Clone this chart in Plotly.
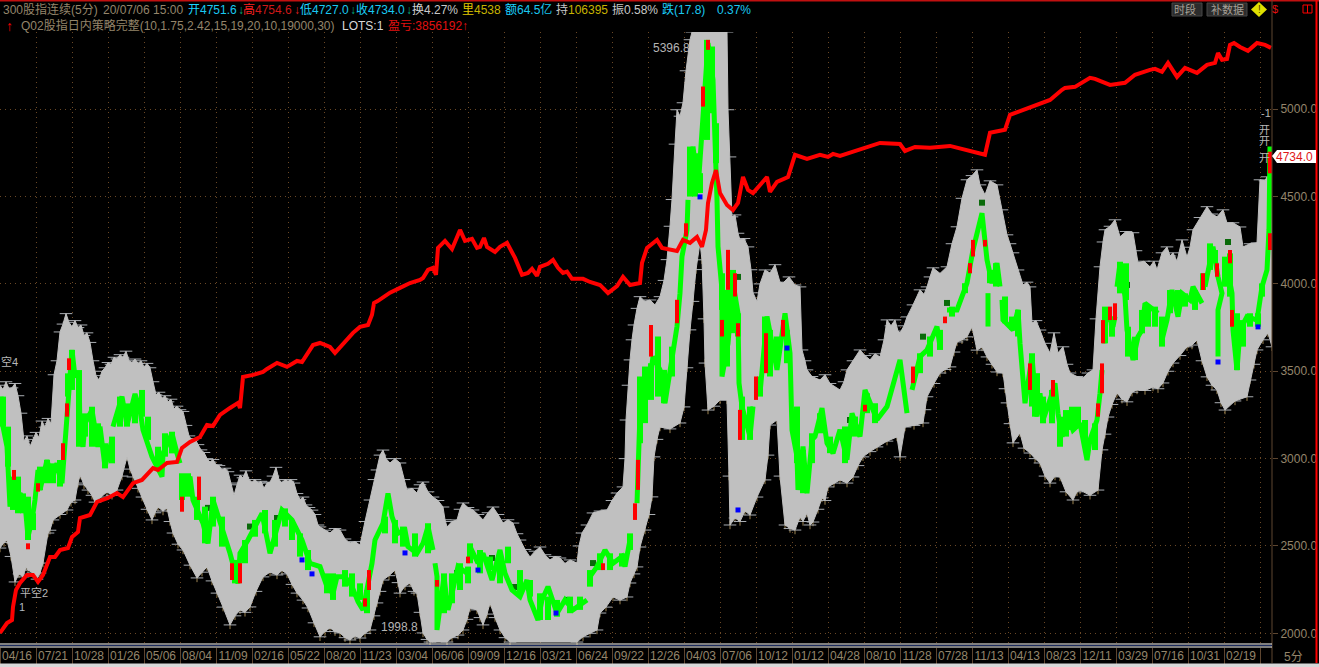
import plotly.graph_objects as go

DATE_LABELS = ["04/16","07/21","10/28","01/26","05/06","08/04","11/09","02/16","05/22","08/20","11/23","03/04","06/06","09/09","12/16","03/21","06/24","09/22","12/26","04/03","07/06","10/12","01/12","04/28","08/10","11/28","07/28","11/13","04/13","08/23","12/11","03/29","07/16","10/31","02/19"]
PRICE_TICKS = [2000,2500,3000,3500,4000,4500,5000]

UPPER_BAND = [(0,3420),(3,3395),(6,3440),(9,3400),(12,3405),(15,3430),(18,3360),(21,3260),(24,3100),(27,3130),(30,3070),(33,3110),(36,3150),(39,3120),(42,3215),(45,3180),(48,3230),(51,3200),(54,3480),(57,3560),(60,3725),(63,3770),(66,3830),(69,3780),(72,3755),(75,3790),(78,3750),(81,3765),(84,3705),(87,3720),(90,3665),(93,3560),(96,3475),(99,3450),(102,3500),(105,3520),(108,3550),(111,3540),(114,3580),(117,3570),(120,3595),(123,3580),(126,3615),(129,3560),(132,3550),(135,3570),(138,3545),(141,3560),(144,3525),(147,3545),(150,3520),(153,3440),(156,3365),(159,3380),(162,3345),(165,3360),(168,3325),(171,3340),(174,3285),(177,3300),(180,3280),(183,3270),(186,3190),(189,3130),(192,3105),(195,3115),(198,3080),(201,3050),(204,3035),(207,3000),(210,2980),(213,2995),(216,2965),(219,2960),(222,2935),(225,2945),(228,2925),(231,2860),(234,2790),(237,2850),(240,2905),(243,2890),(246,2930),(249,2880),(252,2865),(255,2880),(258,2860),(261,2870),(264,2830),(267,2860),(270,2865),(273,2900),(276,2950),(279,2880),(282,2860),(285,2880),(288,2870),(291,2880),(294,2860),(297,2800),(300,2765),(303,2780),(306,2735),(309,2720),(312,2705),(315,2680),(318,2620),(320,2609),(325,2590),(330,2574),(335,2600),(340,2591),(345,2540),(350,2517),(355,2525),(360,2505),(365,2640),(370,2763),(374,2880),(377,2935),(380,3020),(383,3049),(386,3000),(390,2975),(395,3000),(400,2975),(404,2880),(407,2820),(412,2830),(417,2803),(420,2850),(423,2866),(428,2810),(433,2780),(438,2760),(443,2723),(445,2650),(447,2609),(452,2640),(457,2649),(460,2710),(463,2746),(468,2720),(473,2706),(478,2680),(483,2649),(488,2690),(493,2723),(498,2680),(503,2631),(508,2650),(513,2631),(517,2570),(520,2534),(525,2480),(530,2437),(535,2470),(540,2494),(545,2450),(550,2420),(555,2440),(560,2431),(565,2400),(570,2420),(577,2402),(579,2500),(582,2574),(587,2620),(593,2689),(600,2700),(607,2706),(612,2760),(617,2803),(623,2838),(625,3000),(626,3221),(628,3420),(630,3565),(632,3680),(634,3765),(637,3860),(640,3927),(645,3900),(650,3908),(655,3880),(660,3927),(664,4020),(667,4139),(670,4330),(672,4483),(675,4800),(677,4997),(680,4960),(683,5037),(686,5220),(690,5398),(692,5442),(727,5442),(728,4997),(730,4727),(732,4384),(735,4395),(738,4290),(740,4252),(744,4260),(748,4212),(751,4081),(753,3949),(757,3900),(760,4000),(765,4080),(770,4062),(775,4110),(780,4010),(783,4005),(789,4040),(795,3994),(800,3983),(802,3622),(805,3560),(807,3508),(812,3470),(820,3450),(825,3480),(830,3430),(840,3393),(844,3440),(847,3508),(853,3560),(860,3622),(865,3590),(870,3565),(875,3600),(880,3582),(884,3680),(887,3794),(891,3760),(895,3794),(898,3730),(900,3719),(904,3760),(907,3811),(913,3880),(920,3966),(924,3940),(927,3983),(930,4040),(933,4092),(940,4060),(947,4098),(952,4230),(957,4327),(962,4490),(967,4596),(972,4620),(977,4653),(980,4567),(985,4510),(990,4590),(997,4567),(1002,4424),(1007,4281),(1010,4230),(1013,4178),(1018,4080),(1023,3994),(1027,4010),(1030,3983),(1032,3776),(1036,3790),(1040,3736),(1045,3660),(1050,3605),(1054,3720),(1058,3605),(1063,3640),(1067,3540),(1070,3490),(1077,3470),(1083,3462),(1088,3490),(1093,3508),(1096,3800),(1100,4098),(1103,4240),(1105,4310),(1110,4330),(1115,4367),(1120,4270),(1126,4300),(1133,4293),(1136,4190),(1138,4121),(1144,4130),(1150,4098),(1154,4130),(1157,4081),(1162,4178),(1167,4212),(1170,4160),(1173,4178),(1177,4130),(1182,4252),(1187,4154),(1190,4210),(1193,4310),(1200,4380),(1207,4442),(1212,4400),(1217,4384),(1223,4424),(1227,4349),(1233,4350),(1240,4326),(1243,4212),(1250,4230),(1257,4235),(1260,4596),(1265,4590),(1267,4613),(1272,4596)]

LOWER_BAND = [(0,2488),(4,2520),(7,2534),(11,2440),(15,2294),(19,2340),(23,2323),(26,2380),(28,2362),(33,2345),(37,2310),(40,2345),(43,2402),(48,2574),(50,2590),(53,2649),(60,2680),(67,2706),(71,2750),(75,2763),(78,2860),(80,2906),(84,2850),(88,2820),(92,2790),(95,2751),(101,2780),(107,2809),(112,2790),(117,2820),(122,2900),(127,3010),(130,2940),(133,2895),(138,2830),(142,2780),(147,2710),(152,2649),(155,2690),(158,2723),(163,2700),(167,2717),(170,2640),(173,2574),(178,2510),(183,2477),(190,2390),(197,2317),(202,2350),(207,2380),(212,2300),(217,2230),(223,2150),(230,2048),(235,2100),(240,2134),(245,2120),(250,2151),(256,2240),(263,2323),(270,2350),(277,2334),(282,2360),(287,2340),(292,2280),(297,2230),(303,2190),(308,2145),(314,2060),(320,1980),(325,2010),(330,2031),(335,2010),(340,2002),(345,1975),(350,1962),(355,1985),(360,1973),(365,2000),(370,2019),(374,2100),(377,2174),(380,2240),(383,2305),(389,2330),(395,2362),(398,2290),(400,2230),(405,2270),(410,2288),(414,2240),(417,2230),(420,2120),(423,2002),(427,1965),(430,1950),(447,1950),(452,1975),(458,1990),(463,2019),(467,2080),(470,2145),(477,2134),(480,2090),(483,2048),(487,2110),(490,2174),(495,2090),(500,2019),(505,1975),(510,1950),(577,1950),(583,1980),(590,2000),(597,2019),(600,2116),(606,2150),(613,2208),(620,2190),(627,2208),(630,2288),(634,2340),(637,2380),(640,2494),(645,2591),(649,2680),(652,2781),(654,3010),(657,3110),(660,3181),(670,3170),(680,3204),(684,3296),(687,3520),(690,3737),(693,3900),(696,4082),(700,4236),(702,4138),(704,3800),(705,3547),(708,3278),(714,3300),(720,3336),(727,3336),(729,2900),(730,2620),(735,2660),(740,2640),(745,2700),(750,2677),(757,2780),(765,2878),(768,3020),(770,3192),(777,3221),(780,2900),(785,2620),(790,2600),(795,2591),(800,2666),(803,2640),(807,2689),(810,2620),(813,2637),(818,2710),(822,2775),(825,2760),(828,2838),(834,2860),(840,2878),(847,2860),(853,2895),(858,2960),(863,3010),(870,3040),(877,3067),(887,3100),(897,3124),(900,3010),(905,3181),(914,3190),(923,3204),(925,3280),(927,3354),(934,3430),(940,3490),(945,3510),(950,3525),(954,3610),(957,3668),(962,3680),(967,3697),(972,3754),(977,3621),(982,3639),(987,3582),(992,3540),(997,3496),(1003,3490),(1005,3400),(1007,3319),(1010,3200),(1013,3090),(1020,3147),(1024,3060),(1030,3032),(1035,3000),(1040,2975),(1045,2900),(1050,2860),(1055,2900),(1060,2895),(1066,2810),(1073,2763),(1077,2810),(1080,2820),(1090,2790),(1098,2820),(1102,3050),(1105,3140),(1108,3238),(1112,3310),(1117,3376),(1122,3340),(1127,3325),(1132,3380),(1137,3393),(1145,3390),(1153,3410),(1158,3400),(1163,3433),(1168,3500),(1173,3547),(1180,3590),(1187,3640),(1192,3650),(1197,3679),(1202,3560),(1207,3468),(1212,3420),(1217,3393),(1221,3320),(1225,3278),(1235,3330),(1247,3354),(1250,3450),(1254,3540),(1257,3622),(1263,3680),(1268,3719),(1272,3640)]

CANDLE_PATH = [(1,3355),(3,3183),(7,3068),(8,2916),(10,2725),(13,2878),(17,2725),(20,2801),(25,2744),(28,2553),(32,2649),(35,2763),(38,2935),(40,2820),(47,2992),(52,2878),(57,2973),(62,2859),(65,3107),(68,3355),(72,3622),(75,3469),(79,3488),(80,3164),(83,3068),(85,3202),(92,3278),(98,3068),(100,3183),(105,2954),(112,3107),None,
(113,3183),(122,3355),(127,3192),(135,3370),(140,3278),(143,3164),(152,3011),(162,2897),(163,3030),(172,3145),(177,3030),(180,2973),None,
(182,2897),(182,2782),(190,2897),(193,2763),(203,2630),(208,2515),(213,2763),(222,2611),(230,2458),(238,2286),(240,2458),(248,2534),(262,2687),(270,2458),(282,2706),(292,2649),(302,2534),(310,2401),(320,2382),(327,2267),(333,2229),(337,2324),(345,2324),(352,2267),(358,2181),(363,2134),(368,2267),(372,2401),(375,2534),(383,2630),(388,2801),(392,2668),(398,2572),(405,2591),(408,2496),(417,2458),(423,2515),(428,2611),(433,2477),None,
(435,2401),(437,2324),(437,2210),(437,2019),(444,2324),(448,2134),(452,2229),(458,2382),(467,2344),None,
(470,2496),(478,2401),(483,2458),(492,2305),(500,2477),(505,2344),(512,2248),(520,2210),(527,2305),(530,2191),(538,2076),(542,2191),(548,2267),(557,2115),(565,2191),(573,2134),(587,2191),None,
(590,2324),(597,2382),(605,2477),(613,2401),(622,2439),(625,2382),(630,2534),None,
(637,2745),(638,2916),(638,3031),(640,3260),(643,3451),(648,3355),(653,3584),(660,3508),(665,3317),(672,3603),(677,3756),(680,3947),(682,4157),(687,4309),(688,4481),None,
(690,4595),(693,4786),(698,4538),(702,4843),(705,5072),(708,5378),(713,5168),(715,4863),(717,4481),(718,4214),(722,3966),(722,3470),(728,3660),(733,4004),(738,3832),(739,3432),(742,3298),(750,3126),(753,3298),None,
(760,3374),(767,3813),(777,3508),(785,3832),(790,3603),(792,3164),(797,3012),(798,2821),(803,3069),(807,2802),(812,3107),(815,3126),(822,3289),(827,3088),(833,3031),(840,3165),(847,2993),(852,3260),(860,3126),(865,3393),(877,3222),(887,3298),(900,3565),(907,3260),None,
(912,3393),(920,3584),(927,3622),(937,3756),(940,3642),None,
(947,3851),(957,3851),(967,4004),(973,4195),(982,4405),(987,4138),(992,4004),(997,4119),(1000,3985),None,
(988,3947),(988,3756),None,
(1002,3909),(1003,3794),(1013,3737),(1018,3851),(1020,3661),(1025,3317),(1032,3584),(1037,3241),(1040,3374),(1043,3221),(1050,3336),(1055,3431),(1058,3259),(1062,3126),(1067,3259),(1073,3164),(1080,3202),(1087,2992),(1090,3107),(1097,3221),(1100,3374),(1102,3507),None,
(1104,3660),(1107,3851),(1113,3755),(1115,3813),None,
(1117,3984),(1120,4118),(1125,3927),(1127,3736),(1133,3564),(1138,3698),(1142,3736),(1145,3889),(1158,3832),None,
(1162,3679),(1167,3793),(1172,3965),(1178,3813),(1182,3946),(1190,3908),(1193,3984),(1202,3889),None,
(1205,3984),(1213,4213),(1218,4041),(1222,3946),(1218,3851),(1218,3584),None,
(1227,4099),(1232,3946),(1233,3736),(1237,3507),(1240,3736),(1247,3813),(1257,3793),(1262,3984),(1267,4080),(1269,4309),(1270,4786)]

DOWN_BARS = [(3,3355,3183),(8,3183,2954),(13,2897,2706),(18,2897,2687),(23,2801,2687),(28,2782,2534),(33,2687,2591),(40,2954,2820),(47,2992,2859),(53,2973,2859),(60,2992,2840),(68,3488,3355),(72,3622,3393),(79,3507,3068),(85,3259,3126),(92,3297,3068),(98,3202,3068),(105,3088,2944),(112,3126,2973),(120,3355,3183),(127,3316,3183),(135,3355,3202),(142,3393,3240),(148,3240,3107),(158,3068,2954),(165,3145,3011),(172,3154,3030),(182,2916,2763),(188,2916,2782),(197,2782,2649),(205,2725,2515),(213,2782,2611),(222,2668,2496),(235,2420,2286),(245,2534,2401),(255,2649,2553),(265,2706,2572),(275,2649,2496),(285,2715,2611),(292,2649,2534),(300,2572,2439),(308,2477,2362),
(327,2343,2229),(333,2343,2191),(345,2362,2267),(352,2343,2210),(360,2286,2191),(367,2248,2115),(385,2668,2572),(395,2649,2515),(403,2611,2496),(415,2572,2439),(428,2630,2458),(444,2343,2115),(452,2343,2172),(460,2401,2248),(468,2382,2286),(470,2515,2401),(480,2477,2343),(490,2439,2362),(500,2439,2286),(508,2496,2401),(520,2362,2229),(530,2305,2210),(540,2229,2076),(548,2210,2076),(557,2191,2095),(570,2210,2115),(580,2210,2134),(590,2362,2267),(600,2458,2362),(610,2458,2362),(622,2458,2382),(630,2572,2477),
(640,3470,3088),(645,3527,3203),(651,3546,3336),(658,3699,3355),(664,3508,3317),(672,3641,3470),(690,4786,4500),(695,4748,4500),(700,4634,4520),(707,5397,4824),(712,5359,4977),(716,4920,4691),(722,4061,3851),(727,3966,3527),(733,4080,3718),(738,3832,3699),(742,3355,3107),(750,3298,3107),(760,3470,3355),(765,3813,3508),(770,3737,3470),(777,3699,3546),(787,3737,3546),(797,3298,2974),(803,3050,2802),(812,3145,2974),
(820,3260,3145),(830,3126,3031),(845,3184,2974),(855,3241,3126),(867,3374,3260),(875,3317,3203),(920,3603,3489),(930,3699,3584),(940,3737,3622),(952,3870,3813),(965,4004,3947),(990,4080,4004),(996,4119,3985),(1005,3928,3775),(1012,3813,3737),(1018,3851,3699),(1032,3603,3298),(1037,3489,3260),
(1035,3393,3240),(1043,3355,3202),(1052,3393,3202),(1060,3240,3068),(1066,3278,3126),(1072,3297,3164),(1078,3297,3183),(1085,3221,3068),(1095,3202,3049),(1105,3870,3660),(1112,3813,3698),(1120,4127,3946),(1126,4118,3908),(1128,3755,3584),(1135,3698,3564),(1142,3851,3717),(1148,3870,3755),(1155,3870,3755),(1162,3813,3641),(1170,3965,3832),(1178,3965,3851),(1185,3946,3870),(1195,3965,3851),(1203,4061,3965),(1210,4232,4080),(1215,4194,4118),(1225,4156,3984),(1230,4175,3927),(1237,3832,3507),(1243,3793,3641),(1250,3832,3755),(1258,3832,3755),(1262,4003,3927)]

UP_BARS = [(67,3316,3240),(63,3088,2992),(69,3574,3507),(38,2859,2811),(28,2515,2481),(182,2782,2696),(14,2935,2878),(199,2897,2763),(240,2401,2286),(232,2401,2305),(369,2362,2248),(365,2200,2153),(437,2305,2267),(468,2439,2401),(638,2973,2840),(635,2744,2649),(603,2401,2362),(651,3765,3584),(638,2993,2821),(677,3909,3775),(686,4347,4271),(708,5397,5340),(703,5130,5015),(722,3794,3699),(728,4195,3966),(735,4061,3928),(738,3775,3699),(766,3718,3489),(783,3794,3699),(756,3470,3336),(740,3279,3107),(913,3527,3432),(945,3813,3775),(970,4119,4061),(973,4252,4157),(985,4252,4214),(865,3308,3270),(1030,3545,3393),(1053,3450,3355),(1098,3316,3240),(1102,3545,3374),(1103,3793,3660),(1115,3889,3793),(1110,3870,3793),(1203,4061,3965),(1217,4118,4041),(1230,4194,4118),(1232,3851,3755),(1270,4757,4633),(1270,4290,4194)]

BLUE_POINTS = [(302,2420),(312,2340),(405,2460),(478,2362),(556,2116),(1218,3553),(1258,3754),(700,4498),(738,2706),(787,3633)]
DARK_POINTS = [(593,2402),(567,2191),(515,2265),(457,2345),(492,2431),(947,3891),(982,4465),(923,3698),(850,3221),(250,2611),(277,2660),(208,2718),(1127,3994),(738,4040),(1228,4240)]

EQUITY = [(0,2002),(3,2030),(7,2059),(12,2076),(13,2151),(16,2248),(20,2288),(27,2334),(33,2334),(38,2294),(43,2334),(50,2437),(55,2437),(60,2477),(68,2488),(72,2551),(78,2580),(80,2660),(90,2677),(97,2752),(108,2775),(117,2803),(123,2780),(133,2860),(142,2878),(153,2946),(158,2935),(167,2975),(177,2981),(182,3061),(190,3095),(200,3124),(207,3193),(213,3187),(220,3250),(230,3290),(238,3319),(240,3290),(243,3467),(253,3479),(263,3496),(267,3513),(277,3548),(287,3525),(297,3559),(302,3553),(307,3593),(313,3650),(320,3662),(330,3639),(335,3605),(345,3668),(353,3720),(360,3754),(368,3765),(372,3823),(374,3891),(378,3903),(390,3950),(400,3977),(410,4005),(420,4023),(423,4034),(428,4080),(433,4092),(436,4052),(438,4206),(445,4246),(452,4200),(455,4240),(460,4309),(465,4246),(472,4258),(477,4206),(480,4212),(484,4263),(487,4212),(495,4183),(500,4212),(507,4235),(515,4149),(522,4052),(528,4063),(532,4086),(537,4046),(540,4098),(548,4115),(553,4137),(558,4092),(563,4063),(567,4070),(572,4029),(583,4029),(590,4011),(600,3994),(608,3948),(617,3988),(623,4040),(630,3994),(640,4005),(642,4120),(647,4206),(657,4252),(662,4206),(677,4189),(683,4252),(690,4235),(697,4269),(702,4212),(706,4309),(708,4463),(712,4578),(716,4652),(720,4520),(727,4452),(733,4423),(738,4463),(743,4612),(748,4538),(753,4520),(767,4612),(770,4527),(777,4584),(788,4612),(795,4739),(807,4716),(820,4739),(828,4727),(833,4744),(840,4733),(860,4773),(880,4807),(900,4801),(905,4761),(915,4784),(930,4779),(950,4790),(975,4750),(985,4739),(990,4865),(1005,4882),(1010,4968),(1030,5008),(1050,5053),(1062,5111),(1065,5122),(1075,5128),(1090,5180),(1095,5174),(1110,5139),(1125,5151),(1135,5197),(1150,5225),(1155,5231),(1162,5214),(1168,5265),(1177,5185),(1185,5237),(1197,5208),(1207,5254),(1215,5265),(1218,5322),(1222,5283),(1227,5288),(1230,5368),(1234,5379),(1240,5356),(1248,5334),(1257,5379),(1265,5368),(1271,5351)]

X_SPAN = 1272
TICK_STEP = 36
Y_BOTTOM, Y_TOP = 1921.6, 5442

TAN = "#94856b"
BROWN = "#5e4630"
DOT = "#6a4826"

def unzip(pairs):
    xs, ys = [], []
    for p in pairs:
        xs.append(None if p is None else p[0])
        ys.append(None if p is None else p[1])
    return xs, ys

def bars(triples):
    xs, ys = [], []
    for x, a, b in triples:
        xs += [x, x, None]
        ys += [a, b, None]
    return xs, ys

upper_x, upper_v = unzip(UPPER_BAND)
lower_x, lower_v = unzip(LOWER_BAND)
candle_x, candle_v = unzip(CANDLE_PATH)
equity_x, equity_v = unzip(EQUITY)
blue_x, blue_v = unzip(BLUE_POINTS)
dark_x, dark_v = unzip(DARK_POINTS)
red_x, red_v = bars(UP_BARS)
down_x, down_v = bars(DOWN_BARS)

def edge_marks(x, v, symbol, color, size):
    return go.Scatter(x=x, y=v, mode="markers", hoverinfo="skip", showlegend=False,
                      marker=dict(symbol=symbol, size=size, color=color, line=dict(color=color, width=1)))

fig = go.Figure()
fig.add_trace(edge_marks(lower_x, lower_v, "line-ns", "#9c8452", 6))
fig.add_trace(edge_marks(upper_x + lower_x, upper_v + lower_v, "line-ew", "#a9adb2", 9))
fig.add_trace(go.Scatter(x=upper_x + lower_x[::-1], y=upper_v + lower_v[::-1], mode="lines", fill="toself",
                         fillcolor="#c0c0c0", line=dict(color="#c0c0c0", width=1), hoverinfo="skip", name="band"))
fig.add_trace(go.Scatter(x=dark_x, y=dark_v, mode="markers",
                         marker=dict(color="#0a6a0a", size=6, symbol="square"), hoverinfo="skip", name="cluster"))
fig.add_trace(go.Scatter(x=candle_x, y=candle_v, mode="lines", connectgaps=False,
                         line=dict(color="#00ff00", width=5), hoverinfo="skip", name="down"))
fig.add_trace(go.Scatter(x=down_x, y=down_v, mode="lines", connectgaps=False,
                         line=dict(color="#00ff00", width=6), hoverinfo="skip", name="down bars"))
fig.add_trace(go.Scatter(x=red_x, y=red_v, mode="lines", connectgaps=False,
                         line=dict(color="#ff0000", width=4), hoverinfo="skip", name="up"))
fig.add_trace(go.Scatter(x=blue_x, y=blue_v, mode="markers",
                         marker=dict(color="#0000ff", size=5, symbol="square"), hoverinfo="skip", name="signal"))
fig.add_trace(go.Scatter(x=equity_x, y=equity_v, mode="lines",
                         line=dict(color="#ff0000", width=4), hoverinfo="skip", name="equity"))

label_ticks = [TICK_STEP * i + 17 for i in range(len(DATE_LABELS))]
grid_ticks = [TICK_STEP * i for i in range(len(DATE_LABELS) + 1)]

PAD_R, PAD_T, PAD_B = 47, 32, 20
def px(x): return x / X_SPAN
def py(y): return (667 - PAD_B - y) / (667 - PAD_T - PAD_B)

def txt(x, y, s, color, size=12, anchor="left", font="Liberation Sans, Noto Sans CJK SC", bg=None):
    return dict(xref="paper", yref="paper", x=px(x), y=py(y), text=s, showarrow=False,
                xanchor=anchor, yanchor="middle", align="left",
                font=dict(color=color, size=size, family=font), bgcolor=bg, borderpad=0)

def rect(x0, y0, x1, y1, fill=None, line=None, w=1):
    return dict(type="rect", xref="paper", yref="paper", x0=px(x0), x1=px(x1), y0=py(y0), y1=py(y1),
                fillcolor=fill or "rgba(0,0,0,0)", line=dict(color=line or "rgba(0,0,0,0)", width=w), layer="above")

def seg(x0, y0, x1, y1, color, w=1):
    return dict(type="line", xref="paper", yref="paper", x0=px(x0), x1=px(x1), y0=py(y0), y1=py(y1),
                line=dict(color=color, width=w), layer="above")

def poly(points, fill):
    d = "M " + " L ".join(f"{px(a):.5f},{py(b):.5f}" for a, b in points) + " Z"
    return dict(type="path", xref="paper", yref="paper", path=d, fillcolor=fill, line=dict(width=0), layer="above")

CYAN = "#19c8f0"
GOLD = "#c8b400"
HEADER = [
    (2, "300股指连续(5分)", TAN), (102, "20/07/06 15:00", TAN),
    (187, "开", "#1cd4ff"), (199, "4751.6", CYAN), (237, "↓", "#00b080"),
    (242, "高", "#ff2020"), (254, "4754.6", "#d01818"), (293, "↓", "#e02020"),
    (299, "低", "#1cd4ff"), (311, "4727.0", CYAN), (349, "↓", "#00b080"),
    (355, "收", "#1cd4ff"), (367, "4734.0", CYAN), (405, "↓", "#00b080"),
    (411, "换", "#d0d0d0"), (423, "4.27%", "#c8c8c8"),
    (461, "里", "#e0c800"), (473, "4538", GOLD),
    (504, "额", "#1cd4ff"), (516, "64.5亿", CYAN),
    (555, "持", "#c8c8c8"), (567, "106395", GOLD),
    (611, "振", "#c8c8c8"), (623, "0.58%", "#c8c8c8"),
    (661, "跌", "#1cd4ff"), (673, "(17.8)", CYAN), (716, "0.37%", CYAN),
]
anns = [txt(x, 10, s, c) for x, s, c in HEADER]
anns += [
    txt(5, 26, "<b>↑</b>", "#ff0000", 14),
    txt(20, 26, "Q02股指日内策略完整(10,1.75,2.42,15,19,20,10,19000,30)", TAN),
    txt(341, 26, "LOTS:1", "#d8d8d8"),
    txt(387, 26, "盈亏:3856192↑", "#e01010"),
    txt(652, 48, "5396.8", "#b4b4b4", 12),
    txt(380, 627, "1998.8", "#b4b4b4", 12),
    txt(19, 592, "平空2", "#b8b8b8", 11),
    txt(18, 607, "1", "#b0b8c0", 11),
    txt(0, 361, "空4", "#b8b8b8", 11),
    txt(1260, 113, "-1", "#b8b8b8", 11),
    txt(1258, 130, "开", "#b8b8b8", 11),
    txt(1258, 141, "开", "#b8b8b8", 11),
    txt(1258, 158, "开", "#b8b8b8", 11),
    txt(1173, 9, "时段", "#a8a298", 11),
    txt(1210, 9, "补数据", "#a8a298", 11),
    txt(1259, 9, "!", "#504000", 10, anchor="center"),
    txt(1275, 9, "$", "#e01010", 11, anchor="center"),
    txt(1294, 157, "4734.0", "#e01818", 12, anchor="center"),
    txt(1293, 657, "5分", TAN, 12, anchor="center"),
]
shapes = [
    seg(0, 0.5, 1319, 0.5, "#c01010", 2),
    seg(1272, 0, 1272, 663, BROWN),
    seg(1316.5, 0, 1316.5, 663, "#ff0000", 2),
    seg(0, 644, 1272, 644, "#ffffff"),
    seg(0, 645.5, 1272, 645.5, "#1c2c60"),
    seg(0, 647, 1272, 647, "#ffffff"),
    rect(0, 663.5, 1319, 667, fill="#d8d8d8"),
    rect(1172, 3, 1202, 16, fill="#2c2c2c", line="#464646"),
    rect(1207, 3, 1247, 16, fill="#2c2c2c", line="#464646"),
    poly([(1259, 2), (1267, 9.5), (1259, 17), (1251, 9.5)], "#e0e000"),
    rect(1303, 5, 1312, 13, line="#ff0000"),
    seg(1307.5, 5, 1307.5, 13, "#ff0000"),
    poly([(1272, 156), (1277, 150), (1316, 150), (1316, 163), (1277, 163)], "#ffffff"),
]

fig.update_layout(
    width=1319, height=667, autosize=False,
    margin=dict(l=0, r=PAD_R, t=PAD_T, b=PAD_B, pad=0),
    paper_bgcolor="#000000", plot_bgcolor="#000000", showlegend=False,
    font=dict(family="Liberation Sans", color=TAN, size=12),
    annotations=anns, shapes=shapes,
    xaxis=dict(range=[0, X_SPAN], tickmode="array", tickvals=label_ticks, ticktext=DATE_LABELS,
               ticks="", showgrid=False, zeroline=False, showline=False, tickangle=0,
               tickfont=dict(size=12, color=TAN, family="Liberation Sans"),
               minor=dict(tickmode="array", tickvals=grid_ticks, ticks="outside", ticklen=16,
                          tickcolor=BROWN, showgrid=True, gridcolor=DOT, griddash="1px,4px", gridwidth=1)),
    yaxis=dict(range=[Y_BOTTOM, Y_TOP], side="right", tickmode="array", tickvals=PRICE_TICKS,
               ticktext=[f"{v:.1f}" for v in PRICE_TICKS], ticks="outside", ticklen=5, tickcolor=BROWN,
               showgrid=True, gridcolor=DOT, griddash="1px,4px", gridwidth=1, zeroline=False, showline=False,
               tickfont=dict(size=12, color=TAN, family="Liberation Sans")),
)

fig.write_html("out.html", config=dict(displayModeBar=False),
               post_script="document.body.style.margin='0';document.body.style.background='#000';document.body.style.overflow='hidden';")
